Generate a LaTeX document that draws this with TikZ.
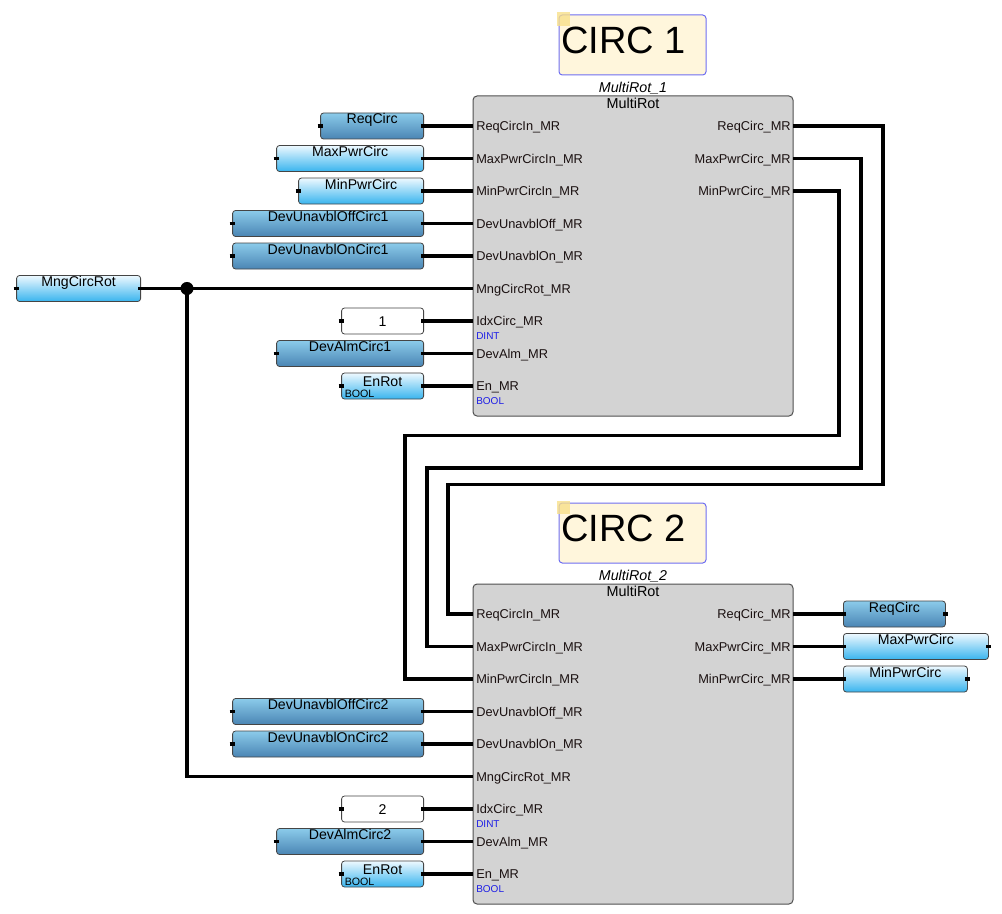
\documentclass[tikz,border=0pt]{standalone}
\usepackage{fontspec}
\setmainfont{Liberation Sans}
\definecolor{dkTop}{HTML}{8BCBEA}
\definecolor{dkBot}{HTML}{4A85B4}
\definecolor{ltTop}{HTML}{EEF9FF}
\definecolor{ltBot}{HTML}{38B4EE}
\definecolor{fbFill}{HTML}{D3D3D3}
\definecolor{fbLine}{HTML}{505050}
\definecolor{boxLine}{HTML}{454545}
\definecolor{noteFill}{HTML}{FFF6DC}
\definecolor{noteLine}{HTML}{6E6EF2}
\definecolor{noteMark}{HTML}{F8E08A}
\definecolor{typeBlue}{HTML}{1E1EE6}
\definecolor{pinText}{HTML}{1A1010}
\tikzset{
  wire/.style={line width=2.3pt, black},
  tick/.style={line width=2.3pt, black},
  vbox/.style={draw=boxLine, line width=0.6pt, rounded corners=2.2pt,
    minimum height=19.5pt, minimum width=#1*0.75pt, inner sep=0pt,
    text height=7.6pt, text depth=10.6pt, font=\fontsize{10.6pt}{12pt}\selectfont},
  dark/.style={vbox=#1, top color=dkTop, bottom color=dkBot},
  light/.style={vbox=#1, top color=ltTop, bottom color=ltBot},
  lightb/.style={vbox=#1, top color=ltTop, bottom color=ltBot, text depth=7.6pt},
  konst/.style={vbox=#1, fill=white, text height=7.6pt, text depth=0pt},
  boolin/.style={font=\fontsize{8pt}{9pt}\selectfont, inner sep=0pt, anchor=base west},
  fb/.style={draw=fbLine, fill=fbFill, line width=0.75pt, rounded corners=3pt,
    minimum width=240pt, minimum height=240pt, inner sep=0pt},
  pinl/.style={font=\fontsize{9.6pt}{11pt}\selectfont, inner sep=0pt,
    text height=6.9pt, text depth=0pt, text=pinText},
  dtype/.style={font=\fontsize{7.5pt}{9pt}\selectfont, inner sep=0pt,
    text height=5.4pt, text depth=0pt, text=typeBlue, anchor=west},
  inst/.style={font=\fontsize{10.7pt}{12pt}\selectfont\itshape, inner sep=0pt,
    text height=7.7pt, text depth=0pt},
  ftype/.style={font=\fontsize{10.8pt}{12pt}\selectfont, inner sep=0pt,
    text height=7.7pt, text depth=0pt},
  note/.style={draw=noteLine, fill=noteFill, line width=0.75pt, rounded corners=2.5pt,
    minimum width=110.25pt, minimum height=45pt, inner sep=0pt},
  notetxt/.style={font=\fontsize{28.5pt}{31pt}\selectfont, inner sep=0pt, anchor=base west},
  jdot/.style={circle, fill=black, inner sep=0pt, minimum size=9.8pt},
}
\newcommand\mrblock[5]{% #1 prefix, #2 y offset, #3 instance, #4 note text, #5 note name
  \node[note] (#5) at (632.5,{45+#2}) {};
  \fill[noteMark, opacity=0.8] ([xshift=-1.5pt,yshift=1.5pt]#5.north west) rectangle ++(10pt,-10pt);
  \node[notetxt] (#5txt) at (561,{53.5+#2}) {#4};
  \node[fb] (#1) at (633,{256+#2}) {};
  \node[inst] (#1inst) at (633,{87+#2}) {#3};
  \node[ftype] (#1type) at (633,{103+#2}) {MultiRot};
  \foreach \lbl [count=\k from 0] in {ReqCircIn\_MR,MaxPwrCircIn\_MR,MinPwrCircIn\_MR,DevUnavblOff\_MR,DevUnavblOn\_MR,MngCircRot\_MR,IdxCirc\_MR,DevAlm\_MR,En\_MR}{
    \coordinate (#1i\k) at (473,{126+#2+32.5*\k});
    \node[pinl,anchor=west] (#1l\k) at (476,{126+#2+32.5*\k}) {\lbl};
  }
  \foreach \lbl [count=\k from 0] in {ReqCirc\_MR,MaxPwrCirc\_MR,MinPwrCirc\_MR}{
    \coordinate (#1o\k) at (793,{126+#2+32.5*\k});
    \node[pinl,anchor=east] (#1r\k) at (791,{126+#2+32.5*\k}) {\lbl};
  }
  \node[dtype] (#1dint) at (476,{336+#2}) {DINT};
  \node[dtype] (#1bool) at (476,{401+#2}) {BOOL};
}
\begin{document}
\begin{tikzpicture}[x=0.75pt,y=-0.75pt]
\useasboundingbox (0,0) rectangle (1002,913);
\mrblock{b1}{0}{MultiRot\_1}{CIRC 1}{circA}
\mrblock{b2}{488}{MultiRot\_2}{CIRC 2}{circB}

% input variables, block 1
\node[dark=103, anchor=east]  (reqA) at (424,126)   {ReqCirc};
\node[light=147, anchor=east] (maxA) at (424,158.5) {MaxPwrCirc};
\node[light=125, anchor=east] (minA) at (424,191)   {MinPwrCirc};
\node[dark=191, anchor=east]  (offA) at (424,223.5) {DevUnavblOffCirc1};
\node[dark=191, anchor=east]  (onA)  at (424,256)   {DevUnavblOnCirc1};
\node[light=124, anchor=east] (mng)  at (141,288.5) {MngCircRot};
\node[konst=82, anchor=east]  (idxA) at (424,321)   {1};
\node[dark=147, anchor=east]  (almA) at (424,353.5) {DevAlmCirc1};
\node[lightb=82, anchor=east] (enA)  at (424,386)   {EnRot};
\node[boolin] (enAbool) at (344.5,397) {BOOL};

% input variables, block 2
\node[dark=191, anchor=east]  (offB) at (424,711.5) {DevUnavblOffCirc2};
\node[dark=191, anchor=east]  (onB)  at (424,744)   {DevUnavblOnCirc2};
\node[konst=82, anchor=east]  (idxB) at (424,809)   {2};
\node[dark=147, anchor=east]  (almB) at (424,841.5) {DevAlmCirc2};
\node[lightb=82, anchor=east] (enB)  at (424,874)   {EnRot};
\node[boolin] (enBbool) at (344.5,885) {BOOL};

% output variables, block 2
\node[dark=102, anchor=west]  (reqB) at (843,614)   {ReqCirc};
\node[light=145, anchor=west] (maxB) at (843,646.5) {MaxPwrCirc};
\node[light=124, anchor=west] (minB) at (843,679)   {MinPwrCirc};

% stubs
\foreach \n in {reqA,maxA,minA,offA,onA,mng,idxA,almA,enA,offB,onB,idxB,almB,enB}
  \draw[tick] (\n.west) +(-2pt,0) -- +(2pt,0);
\foreach \n in {reqB,maxB,minB}
  \draw[tick] (\n.east) +(-2pt,0) -- +(2pt,0);

% connectors
\foreach \n/\p in {reqA/b1i0,maxA/b1i1,minA/b1i2,offA/b1i3,onA/b1i4,idxA/b1i6,almA/b1i7,enA/b1i8,
                   offB/b2i3,onB/b2i4,idxB/b2i6,almB/b2i7,enB/b2i8}
  \draw[wire] ([xshift=-2pt]\n.east) -- (\p);
\foreach \p/\n in {b2o0/reqB,b2o1/maxB,b2o2/minB}
  \draw[wire] (\p) -- ([xshift=2pt]\n.west);

\coordinate (jn) at (187,288.5);
\draw[wire] ([xshift=-2pt]mng.east) -- (b1i5);
\draw[wire] (jn) |- (b2i5);
\node[jdot] (jdot) at (jn) {};

\draw[wire] (b1o0) -| (883,484.5) -- (448,484.5) |- (b2i0);
\draw[wire] (b1o1) -| (861,468) -- (427,468) |- (b2i1);
\draw[wire] (b1o2) -| (839,435.5) -- (405,435.5) |- (b2i2);
\end{tikzpicture}
\end{document}
